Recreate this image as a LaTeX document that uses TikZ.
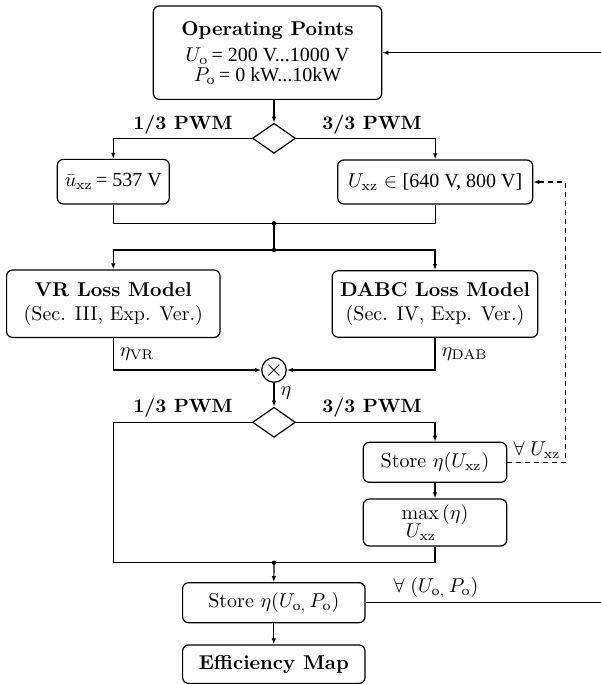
\documentclass[tikz,border=0pt]{standalone}
\usepackage{fontspec}
\newfontfamily\tms{Liberation Serif}
\usetikzlibrary{shapes.geometric,arrows.meta}
\begin{document}
\begin{tikzpicture}[x=0.5pt,y=-0.5pt, font=\fontsize{10}{12}\selectfont,
 box/.style={draw, rounded corners=3pt, line width=0.6pt, align=center, inner sep=1pt},
 line/.style={line width=0.6pt},
 arr/.style={line, -{Latex[length=3pt,width=2.2pt]}},
 dec/.style={draw, diamond, line width=0.6pt, minimum width=21.5pt, minimum height=15pt, inner sep=0pt},
 jdot/.style={circle, fill, inner sep=0pt, minimum size=2.2pt},
 pwm/.style={font=\fontsize{9.6}{12}\selectfont\bfseries, inner sep=0pt}]
\useasboundingbox (0,0) rectangle (600,684);

\node[box, minimum width=114.2pt, minimum height=46.7pt] (op) at (267.5,52.7)
  {\textbf{Operating Points}\\[1pt] $U_{\mathrm o}${\tms\,= 200 V...1000 V}\\[-2pt] $P_{\mathrm o}${\tms\,= 0 kW...10kW}};
\node[dec] (d1) at (274,138.3) {};
\node[box, minimum width=56pt, minimum height=22.3pt] (ub) at (113.3,181.7) {$\bar u_{\mathrm{xz}}${\tms\,= 537 V}};
\node[box, minimum width=97.5pt, minimum height=22pt] (ux) at (435.2,182) {$U_{\mathrm{xz}}\in{}${\tms[640 V, 800 V]}};
\coordinate (j1) at (274,223.3);
\coordinate (j2) at (274,250);
\node[box, minimum width=106.7pt, minimum height=33.7pt] (vr) at (113.3,303.7) {\textbf{VR Loss Model}\\(Sec. III, Exp. Ver.)};
\node[box, minimum width=102.7pt, minimum height=33.3pt] (dab) at (435,304) {\textbf{DABC Loss Model}\\(Sec. IV, Exp. Ver.)};
\node[draw, circle, line, minimum size=10.7pt, inner sep=0pt] (mul) at (274,370) {\large$\times$};
\node[dec] (d2) at (274,422.3) {};
\node[box, minimum width=71.7pt, minimum height=20pt] (su) at (435,462.3) {Store $\eta(U_{\mathrm{xz}})$};
\node[box, minimum width=71.7pt, minimum height=23.5pt] (mx) at (435,522.5) {$\max\,(\eta)$\\[-3pt]\hspace*{-14pt}$U_{\mathrm{xz}}$};
\coordinate (j3) at (274,562.7);
\coordinate (lc) at (113.3,562.7);
\node[box, minimum width=91.2pt, minimum height=20pt] (st) at (273.8,602.7) {Store $\eta(U_{\mathrm{o},}\,P_{\mathrm{o}})$};
\node[box, minimum width=91.2pt, minimum height=19.2pt] (ef) at (273.8,664.2) {\textbf{Efficiency Map}};
\coordinate (rb) at (606,602.7);
\coordinate (dr) at (565.7,462.3);

\node[pwm] (p1) at (183,125) {1/3 PWM};
\node[pwm] (p2) at (372,125) {3/3 PWM};
\node[pwm] (p3) at (183,407.5) {1/3 PWM};
\node[pwm] (p4) at (372,407.5) {3/3 PWM};

\draw[arr] (op.south -| d1.north) -- (d1.north);
\draw[arr] (d1.west) -| (ub.north);
\draw[arr] (d1.east) -| (ux.north);
\draw[line] (ub.south) |- (j1) -| (ux.south);
\draw[line] (j1) -- (j2);
\draw[arr] (j2) -| (vr.north);
\draw[arr] (j2) -| (dab.north);
\node[jdot] (dot1) at (j1) {};
\node[jdot] (dot2) at (j2) {};
\draw[arr] (vr.south) |- (mul.west) node[pos=0.25, anchor=west, xshift=3pt, inner sep=0pt] (lvr) {$\eta_{\mathrm{VR}}$};
\draw[arr] (dab.south) |- (mul.east) node[pos=0.25, anchor=west, xshift=3pt, inner sep=0pt] (ldab) {$\eta_{\mathrm{DAB}}$};
\draw[arr] (mul.south) -- (d2.north) node[midway, anchor=west, xshift=3pt, yshift=1pt, inner sep=0pt] (leta) {$\eta$};
\draw[line] (d2.west) -| (lc) -- (j3);
\draw[arr] (d2.east) -| (su.north);
\draw[arr] (su) -- (mx);
\draw[line] (mx.south) |- (j3);
\node[jdot] (dot3) at (j3) {};
\draw[arr] (j3) -- (st.north);
\draw[arr] (st) -- (ef);
\draw[arr] (st.east) -- (rb) |- (op.east);
\node[inner sep=0pt] (lall) at (436,588) {$\forall\;(U_{\mathrm{o},}\,P_{\mathrm{o}})$};
\draw[arr, dash pattern=on 2.5pt off 2pt] (su.east) -- (dr) |- (ux.east);
\node[inner sep=0pt] (lux) at (537,450) {$\forall\;U_{\mathrm{xz}}$};
\end{tikzpicture}
\end{document}
